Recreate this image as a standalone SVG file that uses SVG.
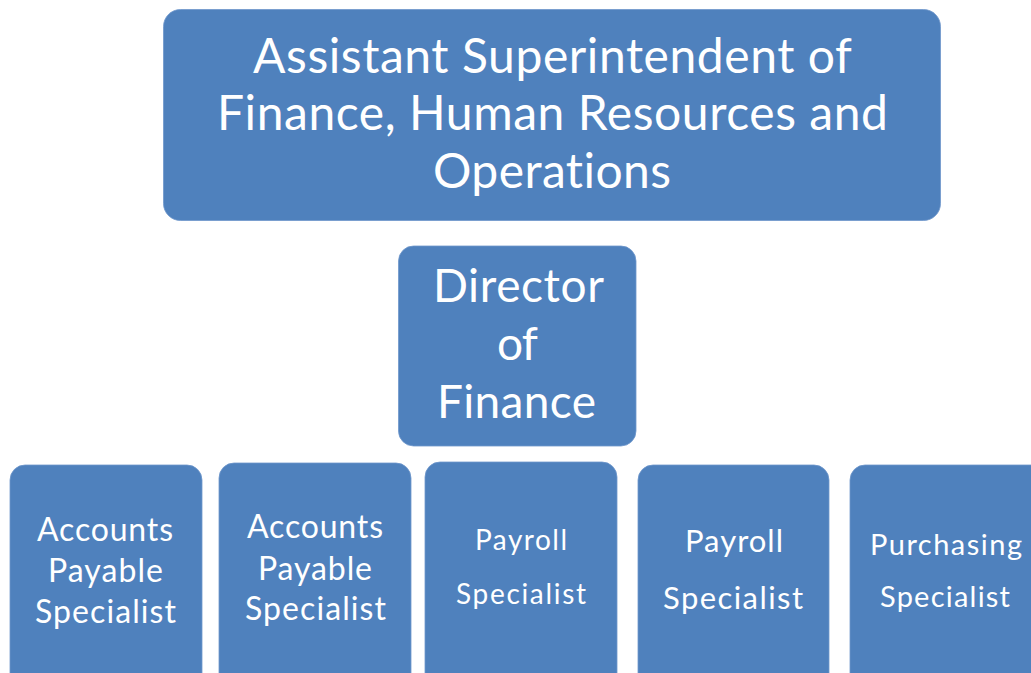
<svg xmlns="http://www.w3.org/2000/svg" width="1031" height="673" viewBox="0 0 1031 673">
<style>
.box{fill:#4F81BD;stroke:#6E97CB;stroke-width:0.8}
.t{fill:#FFFFFF;font-family:Lato,"Open Sans","Liberation Sans",sans-serif;font-variant-ligatures:none;font-feature-settings:"liga" 0,"clig" 0,"dlig" 0}
</style>
<rect width="1031" height="673" fill="#FFFFFF"/>
<g id="connectors"></g>
<g id="node-asst">
<rect class="box" x="163.5" y="9.5" width="777" height="211" rx="17"/>
<text class="t" font-size="48" lengthAdjust="spacingAndGlyphs">
<tspan x="253" y="73" textLength="598">Assistant Superintendent of</tspan>
<tspan x="217" y="130" textLength="671">Finance, Human Resources and</tspan>
<tspan x="433" y="188" textLength="238">Operations</tspan>
</text>
</g>
<g id="node-director">
<rect class="box" x="398.5" y="246" width="237.5" height="200" rx="15"/>
<text class="t" font-size="46" lengthAdjust="spacingAndGlyphs">
<tspan x="433" y="302" textLength="170">Director</tspan>
<tspan x="497" y="360" textLength="40">of</tspan>
<tspan x="437" y="418" textLength="159">Finance</tspan>
</text>
</g>
<g id="node-ap1">
<rect class="box" x="10" y="465" width="192" height="230" rx="15"/>
<text class="t" font-size="32" lengthAdjust="spacingAndGlyphs">
<tspan x="37" y="541" textLength="136">Accounts</tspan>
<tspan x="48" y="582" textLength="115">Payable</tspan>
<tspan x="35" y="623" textLength="141">Specialist</tspan>
</text>
</g>
<g id="node-ap2">
<rect class="box" x="219" y="463" width="192" height="232" rx="15"/>
<text class="t" font-size="32" lengthAdjust="spacingAndGlyphs">
<tspan x="247" y="538" textLength="136">Accounts</tspan>
<tspan x="258" y="580" textLength="114">Payable</tspan>
<tspan x="245" y="620" textLength="141">Specialist</tspan>
</text>
</g>
<g id="node-pr1">
<rect class="box" x="425" y="462" width="192" height="233" rx="15"/>
<text class="t" font-size="28" lengthAdjust="spacingAndGlyphs">
<tspan x="475" y="550" textLength="92">Payroll</tspan>
<tspan x="456" y="604" textLength="130">Specialist</tspan>
</text>
</g>
<g id="node-pr2">
<rect class="box" x="638" y="465" width="191" height="230" rx="15"/>
<text class="t" font-size="31" lengthAdjust="spacingAndGlyphs">
<tspan x="685" y="552" textLength="98">Payroll</tspan>
<tspan x="663" y="609" textLength="140">Specialist</tspan>
</text>
</g>
<g id="node-purch">
<rect class="box" x="850" y="465" width="200" height="230" rx="15"/>
<text class="t" font-size="29" lengthAdjust="spacingAndGlyphs">
<tspan x="870" y="555" textLength="152">Purchasing</tspan>
<tspan x="880" y="607" textLength="130">Specialist</tspan>
</text>
</g>
</svg>
